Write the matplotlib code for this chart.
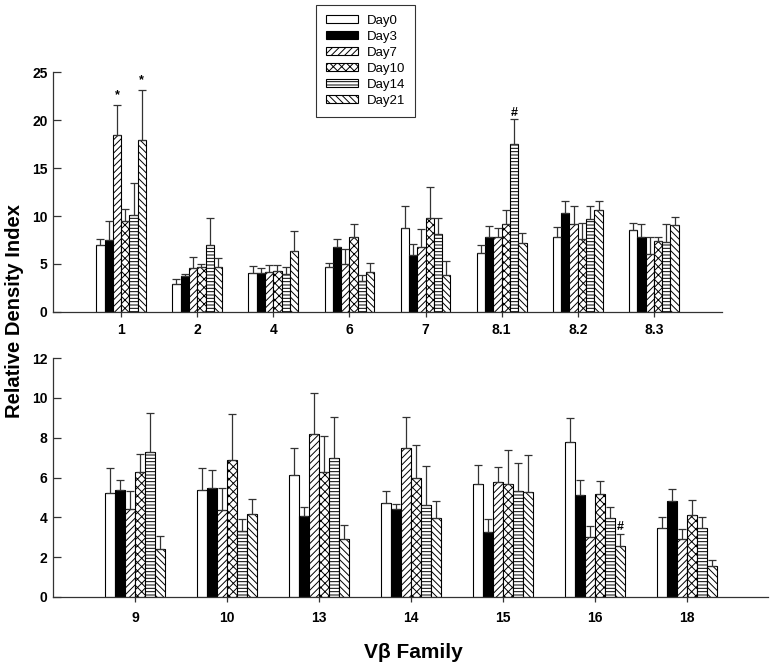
import matplotlib
matplotlib.use("Agg")
import matplotlib.pyplot as plt
import numpy as np

plt.rcParams['font.family'] = ['Liberation Sans', 'DejaVu Sans']
plt.rcParams['hatch.linewidth'] = 0.7

series = ["Day0", "Day3", "Day7", "Day10", "Day14", "Day21"]
hatches = ["", "", "/////", "xxxx", "-----", "\\\\\\\\\\"]
fills = ["white", "black", "white", "white", "white", "white"]

# Top panel
top_families = ["1", "2", "4", "6", "7", "8.1", "8.2", "8.3"]
top_means = {
    "Day0":  [6.97, 2.91, 4.02, 4.72, 8.70, 6.10, 7.77, 8.53],
    "Day3":  [7.49, 3.74, 4.02, 6.73, 5.93, 7.80, 10.33, 7.80],
    "Day7":  [18.48, 4.54, 4.20, 4.96, 6.73, 7.77, 9.12, 6.00],
    "Day10": [9.50, 4.70, 4.30, 7.84, 9.74, 9.12, 7.56, 7.42],
    "Day14": [10.09, 6.93, 3.95, 3.26, 8.08, 17.54, 9.64, 7.32],
    "Day21": [17.90, 4.70, 6.38, 4.20, 3.85, 7.14, 10.61, 9.05],
}
top_upper = {
    "Day0":  [7.56, 3.40, 4.78, 5.06, 11.06, 6.97, 8.88, 9.22],
    "Day3":  [9.47, 4.00, 4.54, 7.60, 7.04, 8.95, 11.58, 9.15],
    "Day7":  [21.60, 5.72, 4.90, 6.52, 8.67, 8.77, 11.06, 7.80],
    "Day10": [10.75, 5.00, 4.90, 9.19, 13.04, 10.60, 9.22, 7.80],
    "Day14": [13.45, 9.74, 4.70, 3.88, 9.74, 20.08, 11.06, 9.12],
    "Day21": [23.10, 5.65, 8.40, 5.06, 5.34, 8.18, 11.55, 9.88],
}

# Bottom panel
bot_families = ["9", "10", "13", "14", "15", "16", "18"]
bot_means = {
    "Day0":  [5.24, 5.39, 6.14, 4.74, 5.69, 7.77, 3.48],
    "Day3":  [5.39, 5.46, 4.05, 4.40, 3.25, 5.10, 4.82],
    "Day7":  [4.43, 4.38, 8.17, 7.50, 5.79, 3.01, 2.91],
    "Day10": [6.28, 6.86, 6.29, 6.00, 5.69, 5.15, 4.13],
    "Day14": [7.28, 3.31, 7.00, 4.64, 5.32, 3.97, 3.46],
    "Day21": [2.43, 4.18, 2.91, 3.98, 5.29, 2.56, 1.57],
}
bot_upper = {
    "Day0":  [6.49, 6.46, 7.50, 5.32, 6.61, 8.97, 4.03],
    "Day3":  [5.87, 6.38, 4.54, 4.65, 3.92, 5.86, 5.41],
    "Day7":  [5.30, 5.49, 10.26, 9.04, 6.53, 3.58, 3.41],
    "Day10": [7.20, 9.20, 8.08, 7.65, 7.36, 5.82, 4.89],
    "Day14": [9.25, 3.93, 9.04, 6.56, 6.73, 4.50, 4.02],
    "Day21": [3.06, 4.94, 3.60, 4.82, 7.15, 3.16, 1.84],
}

# annotations: (panel, family index, series index, text, y)
annots = [
    ("top", 0, 2, "*", 22.6),
    ("top", 0, 5, "*", 24.2),
    ("top", 5, 4, "#", 20.7),
    ("bot", 5, 5, "#", 3.5),
]

W, H = 776, 670
fig = plt.figure(figsize=(W / 100, H / 100), dpi=100)
ax_top = fig.add_axes([53 / W, 1 - 312 / H, (722 - 53) / W, (312 - 72) / H])
ax_bot = fig.add_axes([53 / W, 1 - 597 / H, (768 - 53) / W, (597 - 358) / H])

bw = 0.109


def draw(ax, fams, means, upper, ylim, yticks, xlim, xpad):
    x = np.arange(len(fams))
    for j, s in enumerate(series):
        pos = x + (j - 2.5) * bw
        m = np.array(means[s])
        u = np.array(upper[s])
        ax.bar(pos, m, width=bw, color=fills[j], edgecolor="black",
               hatch=hatches[j], linewidth=0.8, label=s, zorder=2)
        ax.errorbar(pos, m, yerr=[np.zeros_like(m), u - m], fmt="none",
                    ecolor="#333333", elinewidth=0.9, capsize=3, capthick=0.9,
                    zorder=3)
    ax.set_xlim(*xlim)
    ax.set_ylim(*ylim)
    ax.set_yticks(yticks)
    ax.set_xticks(x)
    ax.set_xticklabels(fams)
    for sp in ["top", "right"]:
        ax.spines[sp].set_visible(False)
    for sp in ["left", "bottom"]:
        ax.spines[sp].set_linewidth(0.9)
        ax.spines[sp].set_color("#333333")
    ax.tick_params(axis="y", direction="in", length=6, width=0.9,
                   labelsize=10, pad=4, color="#333333")
    ax.tick_params(axis="x", direction="inout", length=7, width=0.9,
                   labelsize=10, pad=xpad, color="#333333")
    for lab in ax.get_xticklabels() + ax.get_yticklabels():
        lab.set_fontweight("bold")


draw(ax_top, top_families, top_means, top_upper, (0, 25), [0, 5, 10, 15, 20, 25],
     (-0.895, 7.895), 4.5)
draw(ax_bot, bot_families, bot_means, bot_upper, (0, 12), [0, 2, 4, 6, 8, 10, 12],
     (-0.891, 6.88), 6.5)

for panel, gi, si, txt, yv in annots:
    ax = ax_top if panel == "top" else ax_bot
    ax.text(gi + (si - 2.5) * bw, yv, txt, ha="center", va="center",
            fontsize=9, fontweight="bold")

fig.text(15 / W, 1 - 311 / H, "Relative Density Index", rotation=90,
         ha="center", va="center", fontsize=14.5, fontweight="bold")
fig.text(413 / W, 1 - 653 / H, "Vβ Family", ha="center", va="center",
         fontsize=15, fontweight="bold")

handles, labels = ax_top.get_legend_handles_labels()
leg = fig.legend(handles, labels, loc="upper left",
                 bbox_to_anchor=(316 / W, 1 - 5 / H), fontsize=9.5,
                 frameon=True, fancybox=False, edgecolor="black",
                 handlelength=2.4, handleheight=0.5, labelspacing=0.3,
                 borderpad=0.75, handletextpad=0.7, borderaxespad=0)
leg.get_frame().set_linewidth(0.8)

fig.savefig("out.png", dpi=100, facecolor="white")
